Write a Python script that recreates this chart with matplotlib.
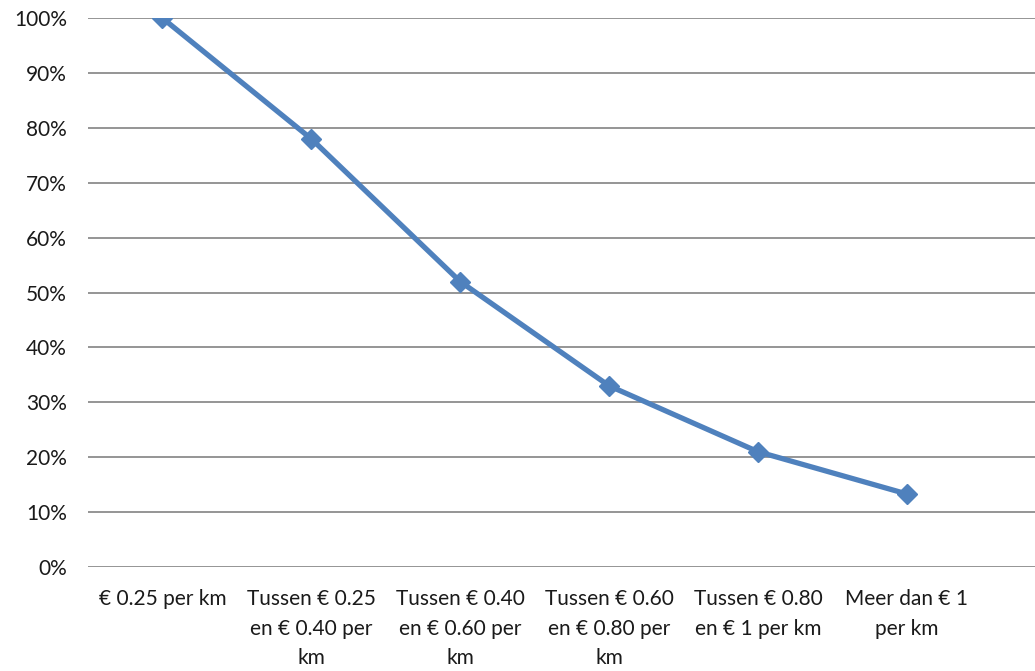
import matplotlib.pyplot as plt
from matplotlib.ticker import PercentFormatter

# categories (price per km) and share of respondents
categories = ['€ 0.25 per km', 'Tussen € 0.25\nen € 0.40 per\nkm', 'Tussen € 0.40\nen € 0.60 per\nkm',
              'Tussen € 0.60\nen € 0.80 per\nkm', 'Tussen € 0.80\nen € 1 per km', 'Meer dan € 1\nper km']
values = [100, 78, 52, 33, 21, 13.3]
y_ticks = list(range(0, 101, 10))

plt.rcParams['font.family'] = ['Lato', 'DejaVu Sans']

fig = plt.figure(figsize=(10.35, 6.71), dpi=100)
ax = fig.add_axes([0.085, 0.155, 0.915, 0.818])

x = list(range(len(categories)))
ax.plot(x, values, color='#4F81BD', linewidth=3.8, marker='D', markersize=10, zorder=3)

ax.set_ylim(0, 100)
ax.set_xlim(-0.5, 5.86)
ax.set_yticks(y_ticks)
ax.yaxis.set_major_formatter(PercentFormatter(decimals=0))
ax.set_xticks(x)
ax.set_xticklabels(categories, linespacing=1.6)
ax.grid(axis='y', color='#8c8c8c', linewidth=1.3)
ax.set_axisbelow(True)
for s in ax.spines.values():
    s.set_visible(False)
ax.tick_params(axis='both', length=0, labelsize=15, colors='#1a1a1a')
ax.tick_params(axis='y', pad=15)
ax.tick_params(axis='x', pad=16)

fig.savefig('out.png', dpi=100)
